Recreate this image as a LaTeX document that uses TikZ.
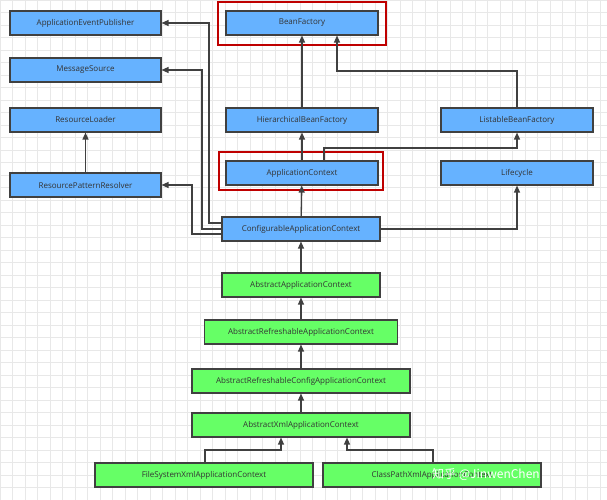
\documentclass[tikz,border=0pt]{standalone}
\usepackage{fontspec}
\setsansfont{Open Sans}
\newfontfamily\cjkfont{Noto Sans CJK SC}
\usetikzlibrary{arrows.meta}
\definecolor{ifblue}{HTML}{66B2FF}
\definecolor{clsgreen}{HTML}{66FF66}
\definecolor{edgegray}{HTML}{404040}
\tikzset{
    box/.style={draw=edgegray, line width=1.1pt, minimum height=24pt, inner sep=0pt,
        font=\sffamily\fontsize{8}{9}\selectfont, text=black!80},
    iface/.style={box, fill=ifblue},
    cls/.style={box, fill=clsgreen},
    inherit/.style={draw=edgegray, line width=1.3pt, -{Triangle[width=6pt,length=7pt]}},
    mark box/.style={draw=red!75!black, line width=1.2pt}
}
\begin{document}
\begin{tikzpicture}[x=1pt, y=-1pt]
    \useasboundingbox (0,0) rectangle (607,500);
    % Raster
    \foreach \g in {0,12.5,...,607} {
        \draw[black!9] (\g,0) -- (\g,500);
    }
    \foreach \g in {0,12.5,...,500} {
        \draw[black!9] (0,\g) -- (607,\g);
    }

    % Interfaces
    \node[iface, minimum width=151pt] (pub)  at (85.5,23)  {ApplicationEventPublisher};
    \node[iface, minimum width=151pt] (msg)  at (85.5,70)  {MessageSource};
    \node[iface, minimum width=151pt] (rl)   at (85.5,120) {ResourceLoader};
    \node[iface, minimum width=151pt] (rpr)  at (85.5,185) {ResourcePatternResolver};
    \node[iface, minimum width=152pt] (bf)   at (302,23)   {BeanFactory};
    \node[iface, minimum width=152pt] (hbf)  at (302,120)  {HierarchicalBeanFactory};
    \node[iface, minimum width=152pt] (lbf)  at (517,120)  {ListableBeanFactory};
    \node[iface, minimum width=152pt] (ac)   at (302,173)  {ApplicationContext};
    \node[iface, minimum width=152pt] (lc)   at (517,173)  {Lifecycle};
    \node[iface, minimum width=158pt] (cac)  at (301,229)  {ConfigurableApplicationContext};

    % Klassen
    \node[cls, minimum width=158pt] (aac)   at (301,285) {AbstractApplicationContext};
    \node[cls, minimum width=193pt] (arac)  at (301,332) {AbstractRefreshableApplicationContext};
    \node[cls, minimum width=218pt] (arcac) at (301,381) {AbstractRefreshableConfigApplicationContext};
    \node[cls, minimum width=218pt] (axac)  at (301,425) {AbstractXmlApplicationContext};
    \node[cls, minimum width=218pt] (fsx)   at (204,475) {FileSystemXmlApplicationContext};
    \node[cls, minimum width=218pt] (cpx)   at (432,475) {ClassPathXmlApplicationContext};

    % Markierungen
    \draw[mark box] (218,2) rectangle (386,45);
    \draw[mark box] (219,152) rectangle (383,190);

    % Vererbung
    \draw[inherit] (rpr) -- (rl);
    \draw[inherit] (hbf) -- (bf);
    \draw[inherit] (lbf.north) |- (337,71) -- (bf.south -| 337,0);
    \draw[inherit] (ac) -- (hbf);
    \draw[inherit] (ac.north -| 324,0) |- (475,148) -| (lbf.south);
    \draw[inherit] (cac) -- (ac);
    \draw[inherit] (cac.east) -| (lc.south);
    \draw[inherit] (cac.west |- 0,223) -| (209,23) -- (pub.east);
    \draw[inherit] (cac.west |- 0,229) -| (202,70) -- (msg.east);
    \draw[inherit] (cac.west |- 0,234) -| (192,185) -- (rpr.east);
    \draw[inherit] (aac) -- (cac);
    \draw[inherit] (arac) -- (aac);
    \draw[inherit] (arcac) -- (arac);
    \draw[inherit] (axac) -- (arcac);
    \draw[inherit] (fsx.north -| 205,0) |- (281,450) -- (axac.south -| 281,0);
    \draw[inherit] (cpx.north -| 433,0) |- (347,450) -- (axac.south -| 347,0);

    % Wasserzeichen
    \node[text=white, font=\cjkfont\fontsize{12}{14}\selectfont, anchor=west, inner sep=0pt] (wm) at (432,474) {知乎 @JinwenChen};
\end{tikzpicture}
\end{document}
